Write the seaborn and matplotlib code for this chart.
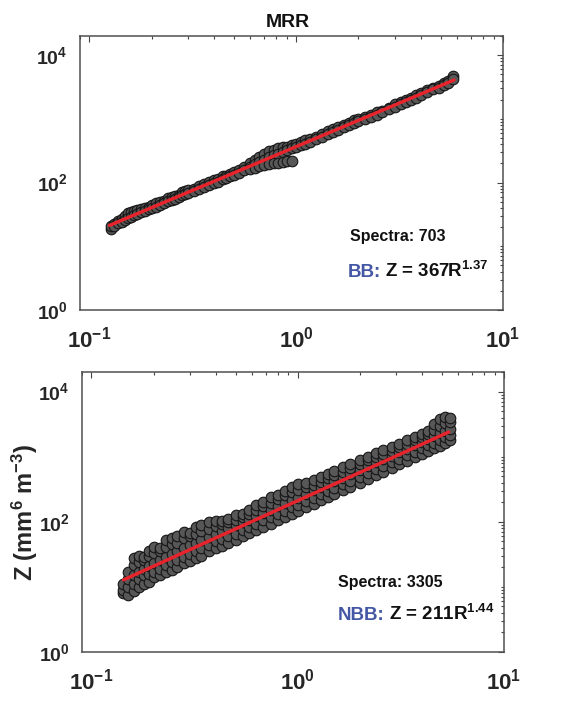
import numpy as np
import pandas as pd
import matplotlib
matplotlib.use("Agg")
import matplotlib.pyplot as plt
import seaborn as sns
from matplotlib import font_manager as fm
from matplotlib.ticker import FixedLocator, FixedFormatter, LogLocator, NullFormatter

# ---------------- data ----------------
# BB panel: rain rate R (mm/h) levels and the Z values seen at each level
bb_r = [0.127, 0.132, 0.138, 0.143, 0.148, 0.153, 0.158, 0.164, 0.17, 0.177,
        0.185, 0.193, 0.2, 0.21, 0.22, 0.23, 0.24, 0.25, 0.26, 0.27, 0.28,
        0.29, 0.3, 0.32, 0.34, 0.36, 0.38, 0.4, 0.42, 0.44, 0.46, 0.48, 0.5,
        0.53, 0.56, 0.6, 0.63, 0.66, 0.7, 0.74, 0.78, 0.82, 0.86, 0.9, 0.95,
        1.0, 1.05, 1.1, 1.17, 1.25, 1.33, 1.42, 1.5, 1.6, 1.7, 1.8, 1.9, 2.0,
        2.15, 2.3, 2.45, 2.6, 2.8, 3.0, 3.2, 3.4, 3.6, 3.8, 4.0, 4.3, 4.6,
        4.9, 5.2, 5.45, 5.7]
bb_z = [[19, 21], [22, 21], [25, 23], [27, 24], [30, 26], [33, 28], [35, 29],
        [36, 31], [37, 32], [38, 34], [40, 36], [42, 38], [44, 40], [47, 42],
        [50, 45], [52, 48], [57, 51], [60, 53], [62, 56], [65, 60], [72, 63],
        [75, 66], [77, 68], [80, 74], [88, 80], [96, 86], [102, 92],
        [110, 100], [115, 104], [125, 112], [128, 118], [138, 127],
        [145, 132], [158, 142], [175, 155], [200, 178, 165], [228, 195, 172],
        [255, 210, 180], [285, 230, 190], [310, 250, 195], [330, 268, 200],
        [345, 285, 205], [358, 305, 210], [368, 325, 215], [385, 348, 220],
        [400, 365], [430, 385], [460, 410], [480, 440], [520, 480], [580, 520],
        [640, 570], [700, 620], [740, 680], [800, 740], [860, 800], [960, 850],
        [1000, 920], [1080, 1000], [1150, 1080], [1260, 1150], [1350, 1280],
        [1500, 1420], [1700, 1550], [1820, 1700], [2000, 1850], [2150, 2000],
        [2350, 2150], [2550, 2350], [2800, 2600], [3000, 2900], [3250, 3100],
        [3600, 3350], [3900, 3650], [4700, 4200]]

# NBB panel
nbb_r = [0.143, 0.15, 0.16, 0.17, 0.18, 0.19, 0.2, 0.215, 0.23, 0.245, 0.26,
         0.28, 0.3, 0.32, 0.34, 0.37, 0.4, 0.43, 0.46, 0.5, 0.54, 0.58, 0.63,
         0.68, 0.74, 0.8, 0.87, 0.94, 1.0, 1.1, 1.2, 1.3, 1.4, 1.5, 1.65, 1.8,
         2.0, 2.2, 2.4, 2.6, 2.85, 3.1, 3.4, 3.7, 4.0, 4.3, 4.6, 4.9, 5.2, 5.5]
nbb_z = [[8, 9, 11], [7.5, 10, 13, 17], [8.5, 11, 15, 22, 28],
         [10, 13, 17, 24, 30], [11, 15, 19, 26, 29], [12, 16, 21, 30, 36],
         [14, 17, 23, 33, 41], [15, 19, 26, 35, 40], [17, 22, 29, 41, 52],
         [18, 24, 32, 45, 56], [20, 26, 35, 47, 60], [23, 29, 39, 56, 70],
         [25, 32, 44, 60, 68], [28, 35, 47, 66, 82], [30, 39, 52, 72, 88],
         [35, 44, 58, 78, 100], [39, 50, 64, 85, 102], [43, 55, 72, 92, 104],
         [47, 60, 79, 100, 112], [53, 66, 88, 108, 125],
         [60, 75, 98, 118, 132], [67, 84, 108, 132, 150],
         [75, 94, 122, 150, 178], [84, 106, 138, 172, 205],
         [94, 118, 152, 196, 240], [106, 133, 172, 225, 262],
         [118, 148, 192, 255, 300], [132, 166, 215, 285, 340],
         [146, 182, 236, 310, 375], [168, 208, 268, 340, 400],
         [190, 236, 305, 370, 440], [215, 266, 345, 415, 480],
         [240, 296, 385, 465, 545], [265, 326, 425, 515, 600],
         [305, 375, 475, 590, 690], [345, 425, 545, 670, 760],
         [400, 495, 635, 775, 900], [460, 565, 725, 875, 1000],
         [520, 640, 815, 975, 1120], [590, 720, 910, 1090, 1250],
         [670, 820, 1040, 1240, 1420], [760, 930, 1170, 1390, 1560],
         [870, 1060, 1330, 1590, 1780], [980, 1190, 1490, 1790, 2000],
         [1100, 1340, 1680, 1990, 2250], [1220, 1490, 1880, 2240, 2500],
         [1350, 1640, 2080, 2580, 3200], [1480, 1790, 2280, 2950, 3800],
         [1640, 1980, 2480, 3250, 4100], [1800, 2180, 2680, 3450, 3950]]

panel_names = ["BB", "NBB"]
spectra = [703, 3305]
coef_a = [367, 211]
coef_b = [1.37, 1.44]
fit_r_range = [[0.125, 5.8], [0.143, 5.4]]

x_ticks = [0.1, 1, 10]
x_tick_labels = ["$10^{-1}$", "$10^{0}$", "$10^{1}$"]
y_ticks = [1, 100, 10000]
y_tick_labels = ["$10^{0}$", "$10^{2}$", "$10^{4}$"]

# ---------------- style ----------------
sns.set_theme(style="white")
names = {f.name for f in fm.fontManager.ttflist}
narrow = "Liberation Sans Narrow" if "Liberation Sans Narrow" in names else "Liberation Sans"
plt.rcParams["font.family"] = [narrow, "DejaVu Sans"]
plt.rcParams["font.weight"] = "bold"
plt.rcParams["mathtext.fontset"] = "custom"
plt.rcParams["mathtext.rm"] = "Liberation Sans:bold"
plt.rcParams["mathtext.it"] = "Liberation Sans:bold"
plt.rcParams["mathtext.bf"] = "Liberation Sans:bold"
plt.rcParams["mathtext.default"] = "rm"

W, H = 577, 703
fig = plt.figure(figsize=(W / 100, H / 100), dpi=100)
fig.patch.set_facecolor("white")

# axes boxes in pixels: left, top, right, bottom
boxes = [(80, 36, 503, 310), (82, 372, 504, 652)]
# text positions (axes fraction)
spectra_pos = [(0.638, 0.252), (0.607, 0.232)]
eq_pos = [(0.634, 0.12), (0.607, 0.114)]

for i in range(2):
    l, t, r, b = boxes[i]
    ax = fig.add_axes([l / W, 1 - b / H, (r - l) / W, (b - t) / H])
    rs = bb_r if i == 0 else nbb_r
    zs = bb_z if i == 0 else nbb_z
    df = pd.DataFrame({"R": [rv for rv, g in zip(rs, zs) for _ in g],
                       "Z": [zv for g in zs for zv in g]})
    sns.scatterplot(data=df, x="R", y="Z", ax=ax, s=58, color="#575757",
                    edgecolor="#151515", linewidth=0.8, zorder=2, legend=False)
    fr = np.array(fit_r_range[i])
    fit = pd.DataFrame({"R": fr, "Z": coef_a[i] * fr ** coef_b[i]})
    sns.lineplot(data=fit, x="R", y="Z", ax=ax, color="#e8232b", linewidth=2.4,
                 zorder=3, legend=False)
    ax.set_xscale("log")
    ax.set_yscale("log")
    ax.set_xlim(0.09, 10)
    ax.set_ylim(1, 2e4)

    ax.xaxis.set_major_locator(FixedLocator(x_ticks))
    ax.xaxis.set_major_formatter(FixedFormatter(x_tick_labels))
    ax.yaxis.set_major_locator(FixedLocator(y_ticks))
    ax.yaxis.set_major_formatter(FixedFormatter(y_tick_labels))
    ax.xaxis.set_minor_locator(LogLocator(base=10, subs=np.arange(2, 10)))
    ax.yaxis.set_minor_locator(LogLocator(base=10, subs=np.arange(1, 10), numticks=20))
    ax.xaxis.set_minor_formatter(NullFormatter())
    ax.yaxis.set_minor_formatter(NullFormatter())
    ax.tick_params(which="both", direction="in", top=True, right=True,
                   color="#444444", width=0.8)
    ax.tick_params(which="major", length=4)
    ax.tick_params(which="minor", length=2)
    ax.tick_params(axis="x", which="major", labelsize=16, pad=12)
    ax.tick_params(axis="y", which="major", labelsize=14, pad=9)
    for sp in ax.spines.values():
        sp.set_color("#505050")
        sp.set_linewidth(1.1)
        sp.set_visible(True)
    ax.set_xlabel("")
    if i == 1:
        ax.set_ylabel("Z (mm$^{6}$ m$^{-3}$)", fontsize=17, fontweight="bold",
                      family="Liberation Sans", va="center", ha="center")
        ax.yaxis.set_label_coords((25 - l) / (r - l), 0.5)
    else:
        ax.set_ylabel("")

    sx, sy = spectra_pos[i]
    ax.text(sx, sy, f"Spectra: {spectra[i]}", transform=ax.transAxes,
            fontsize=11.5, fontweight="bold", color="#111111", va="baseline")
    ex, ey = eq_pos[i]
    t1 = ax.text(ex, ey, panel_names[i] + ":", transform=ax.transAxes,
                 fontsize=13.5, fontweight="bold", color="#4457a5",
                 va="baseline")
    ax.annotate(f"Z = {coef_a[i]}R$^{{{coef_b[i]:.2f}}}$", xy=(1, 0),
                xycoords=t1, xytext=(4, 0), textcoords="offset pixels",
                va="bottom", ha="left", fontsize=13.5,
                fontweight="bold", color="#111111")

fig.text(288 / W, 1 - 27 / H, "MRR", ha="center", va="baseline", fontsize=14,
         fontweight="bold", color="#111111")

fig.savefig("out.png", dpi=100, facecolor="white")
